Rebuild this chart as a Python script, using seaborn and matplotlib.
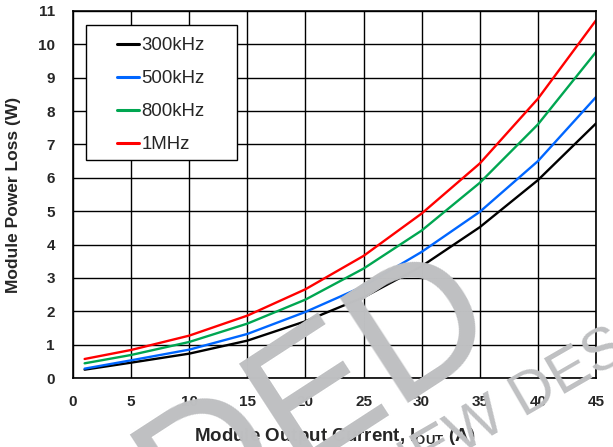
import pandas as pd
import seaborn as sns
import matplotlib.pyplot as plt
from matplotlib.patches import Rectangle

# valores (corrente em A, perda em W)
corrente = [1, 5, 10, 15, 20, 25, 30, 35, 40, 45]
perda_300k = [0.25, 0.46, 0.73, 1.12, 1.70, 2.42, 3.35, 4.52, 5.93, 7.63]
perda_500k = [0.28, 0.53, 0.85, 1.32, 1.98, 2.75, 3.78, 4.98, 6.50, 8.42]
perda_800k = [0.44, 0.69, 1.08, 1.63, 2.35, 3.28, 4.42, 5.85, 7.60, 9.77]
perda_1m = [0.57, 0.84, 1.27, 1.87, 2.66, 3.66, 4.93, 6.43, 8.37, 10.72]

freqs = ['300kHz', '500kHz', '800kHz', '1MHz']
cores = ['#000000', '#0066ff', '#00a651', '#ff0000']
xticks = list(range(0, 46, 5))
yticks = list(range(0, 12))

# monta o dataframe em formato longo
partes = []
for f, p in zip(freqs, [perda_300k, perda_500k, perda_800k, perda_1m]):
    partes.append(pd.DataFrame({'corrente': corrente, 'perda': p, 'freq': f}))
df = pd.concat(partes, ignore_index=True)

sns.set_style('white')
plt.rcParams['font.family'] = ['Liberation Sans', 'DejaVu Sans']
plt.rcParams['mathtext.fontset'] = 'custom'
plt.rcParams['mathtext.rm'] = 'Liberation Sans'
plt.rcParams['mathtext.bf'] = 'Liberation Sans:bold'

fig = plt.figure(figsize=(6.13, 4.47), dpi=100)
ax = fig.add_axes([73 / 613, 69 / 447, 523 / 613, 367 / 447])

sns.lineplot(data=df, x='corrente', y='perda', hue='freq', hue_order=freqs,
             palette=dict(zip(freqs, cores)), linewidth=1.7, ax=ax)

ax.set_xlim(0, 45)
ax.set_ylim(0, 11)
ax.set_xticks(xticks)
ax.set_yticks(yticks)
ax.grid(True, color='black', linewidth=1.0)
ax.set_axisbelow(True)
for s in ax.spines.values():
    s.set_color('black')
    s.set_linewidth(1.2)
ax.tick_params(axis='x', length=0, labelsize=11, pad=12.5)
ax.tick_params(axis='y', length=0, labelsize=11, pad=13)
for lbl in ax.get_xticklabels() + ax.get_yticklabels():
    lbl.set_fontweight('bold')

ax.set_xlabel(r'Module Output Current, I$_{\mathbf{OUT}}$ (A)', fontsize=13.5, fontweight='bold')
ax.set_ylabel('Module Power Loss (W)', fontsize=12.5, fontweight='bold')
ax.xaxis.set_label_coords(0.5, -0.131)
ax.yaxis.set_label_coords(-0.099, 0.5)

# caixa da legenda
ax.add_patch(Rectangle((0.0249, 0.594), 0.2887, 0.368, transform=ax.transAxes,
                       facecolor='white', edgecolor='black', linewidth=1.0, zorder=4))
handles, labels = ax.get_legend_handles_labels()
leg = ax.legend(handles, labels, loc='center left', bbox_to_anchor=(0.0841, 0.770),
                frameon=False, fontsize=13.4, handlelength=1.2, handletextpad=0.1,
                labelspacing=0.86, borderpad=0, borderaxespad=0)
leg.set_zorder(5)
for h in leg.get_lines():
    h.set_linewidth(2.2)

# marca d'agua
fig.text(505 / 613, 1 - 340 / 447, 'NOT RECOMMENDED', fontsize=130, color='#bfc0c2',
         rotation=33, rotation_mode='anchor', ha='right', va='baseline', zorder=10)
fig.text(265 / 613, 1 - 568 / 447, 'FOR NEW DESIGNS', fontsize=43, color='#bfc0c2',
         rotation=30, rotation_mode='anchor', ha='left', va='baseline', zorder=10)

fig.savefig('out.png', dpi=100)
